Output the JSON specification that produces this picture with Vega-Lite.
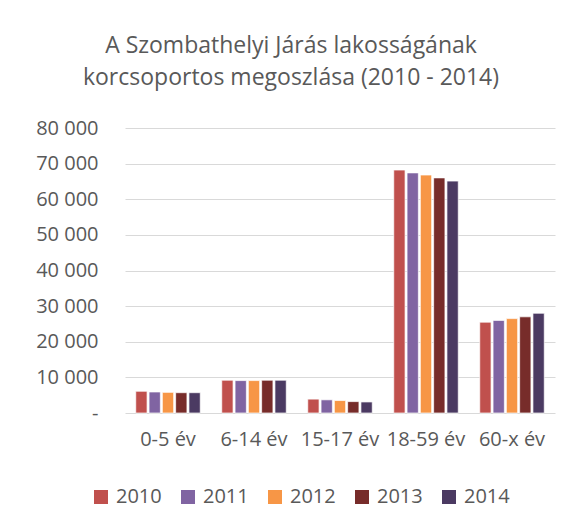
{
  "$schema": "https://vega.github.io/schema/vega-lite/v6.json",
  "width": 430,
  "height": 285,
  "autosize": {"type": "none"},
  "padding": {"left": 125, "top": 128, "right": 22, "bottom": 119},
  "background": "white",
  "title": {
    "text": ["A Szombathelyi Járás lakosságának", "korcsoportos megoszlása (2010 - 2014)"],
    "font": "Open Sans",
    "fontSize": 23,
    "fontWeight": "normal",
    "color": "#595959",
    "anchor": "middle",
    "offset": 28,
    "dx": -49,
    "lineHeight": 32
  },
  "data": {
    "values": [
      {"group": "0-5 év", "year": "2010", "value": 6100},
      {"group": "0-5 év", "year": "2011", "value": 5900},
      {"group": "0-5 év", "year": "2012", "value": 5800},
      {"group": "0-5 év", "year": "2013", "value": 5700},
      {"group": "0-5 év", "year": "2014", "value": 5700},
      {"group": "6-14 év", "year": "2010", "value": 9200},
      {"group": "6-14 év", "year": "2011", "value": 9100},
      {"group": "6-14 év", "year": "2012", "value": 9100},
      {"group": "6-14 év", "year": "2013", "value": 9200},
      {"group": "6-14 év", "year": "2014", "value": 9200},
      {"group": "15-17 év", "year": "2010", "value": 3900},
      {"group": "15-17 év", "year": "2011", "value": 3700},
      {"group": "15-17 év", "year": "2012", "value": 3500},
      {"group": "15-17 év", "year": "2013", "value": 3200},
      {"group": "15-17 év", "year": "2014", "value": 3100},
      {"group": "18-59 év", "year": "2010", "value": 68200},
      {"group": "18-59 év", "year": "2011", "value": 67400},
      {"group": "18-59 év", "year": "2012", "value": 66800},
      {"group": "18-59 év", "year": "2013", "value": 66000},
      {"group": "18-59 év", "year": "2014", "value": 65100},
      {"group": "60-x év", "year": "2010", "value": 25500},
      {"group": "60-x év", "year": "2011", "value": 26000},
      {"group": "60-x év", "year": "2012", "value": 26500},
      {"group": "60-x év", "year": "2013", "value": 27000},
      {"group": "60-x év", "year": "2014", "value": 28000}
    ]
  },
  "mark": {"type": "bar", "stroke": "white", "strokeWidth": 0.7},
  "encoding": {
    "x": {
      "field": "group",
      "type": "nominal",
      "sort": null,
      "title": null,
      "scale": {"paddingInner": 0.25, "paddingOuter": 0.125},
      "axis": {
        "labelAngle": 0,
        "labelFont": "Open Sans",
        "labelFontSize": 20,
        "labelColor": "#595959",
        "labelPadding": 16,
        "labelOverlap": false,
        "labelBound": false,
        "ticks": false,
        "domain": false
      }
    },
    "xOffset": {"field": "year", "type": "nominal", "scale": {"paddingInner": 0.15}},
    "y": {
      "field": "value",
      "type": "quantitative",
      "title": null,
      "scale": {"domain": [0, 80000]},
      "axis": {
        "values": [0, 10000, 20000, 30000, 40000, 50000, 60000, 70000, 80000],
        "labelExpr": "datum.value == 0 ? '-' : replace(format(datum.value, ',d'), ',', ' ')",
        "labelFont": "Open Sans",
        "labelFontSize": 20,
        "labelColor": "#595959",
        "labelPadding": 27,
        "labelOverlap": false,
        "labelBound": false,
        "ticks": false,
        "domain": false,
        "gridColor": "#d9d9d9",
        "gridWidth": 1.2
      }
    },
    "color": {
      "field": "year",
      "type": "nominal",
      "title": null,
      "scale": {
        "domain": ["2010", "2011", "2012", "2013", "2014"],
        "range": ["#C0504D", "#8064A2", "#F79646", "#772C2A", "#4B3A62"]
      },
      "legend": {
        "orient": "none",
        "legendX": -34,
        "legendY": 359,
        "direction": "horizontal",
        "symbolType": "square",
        "symbolSize": 196,
        "symbolStrokeWidth": 0,
        "labelOffset": 5,
        "labelFont": "Open Sans",
        "labelFontSize": 20,
        "labelColor": "#595959",
        "columnPadding": 16,
        "padding": 0
      }
    }
  },
  "config": {"view": {"stroke": null}}
}
